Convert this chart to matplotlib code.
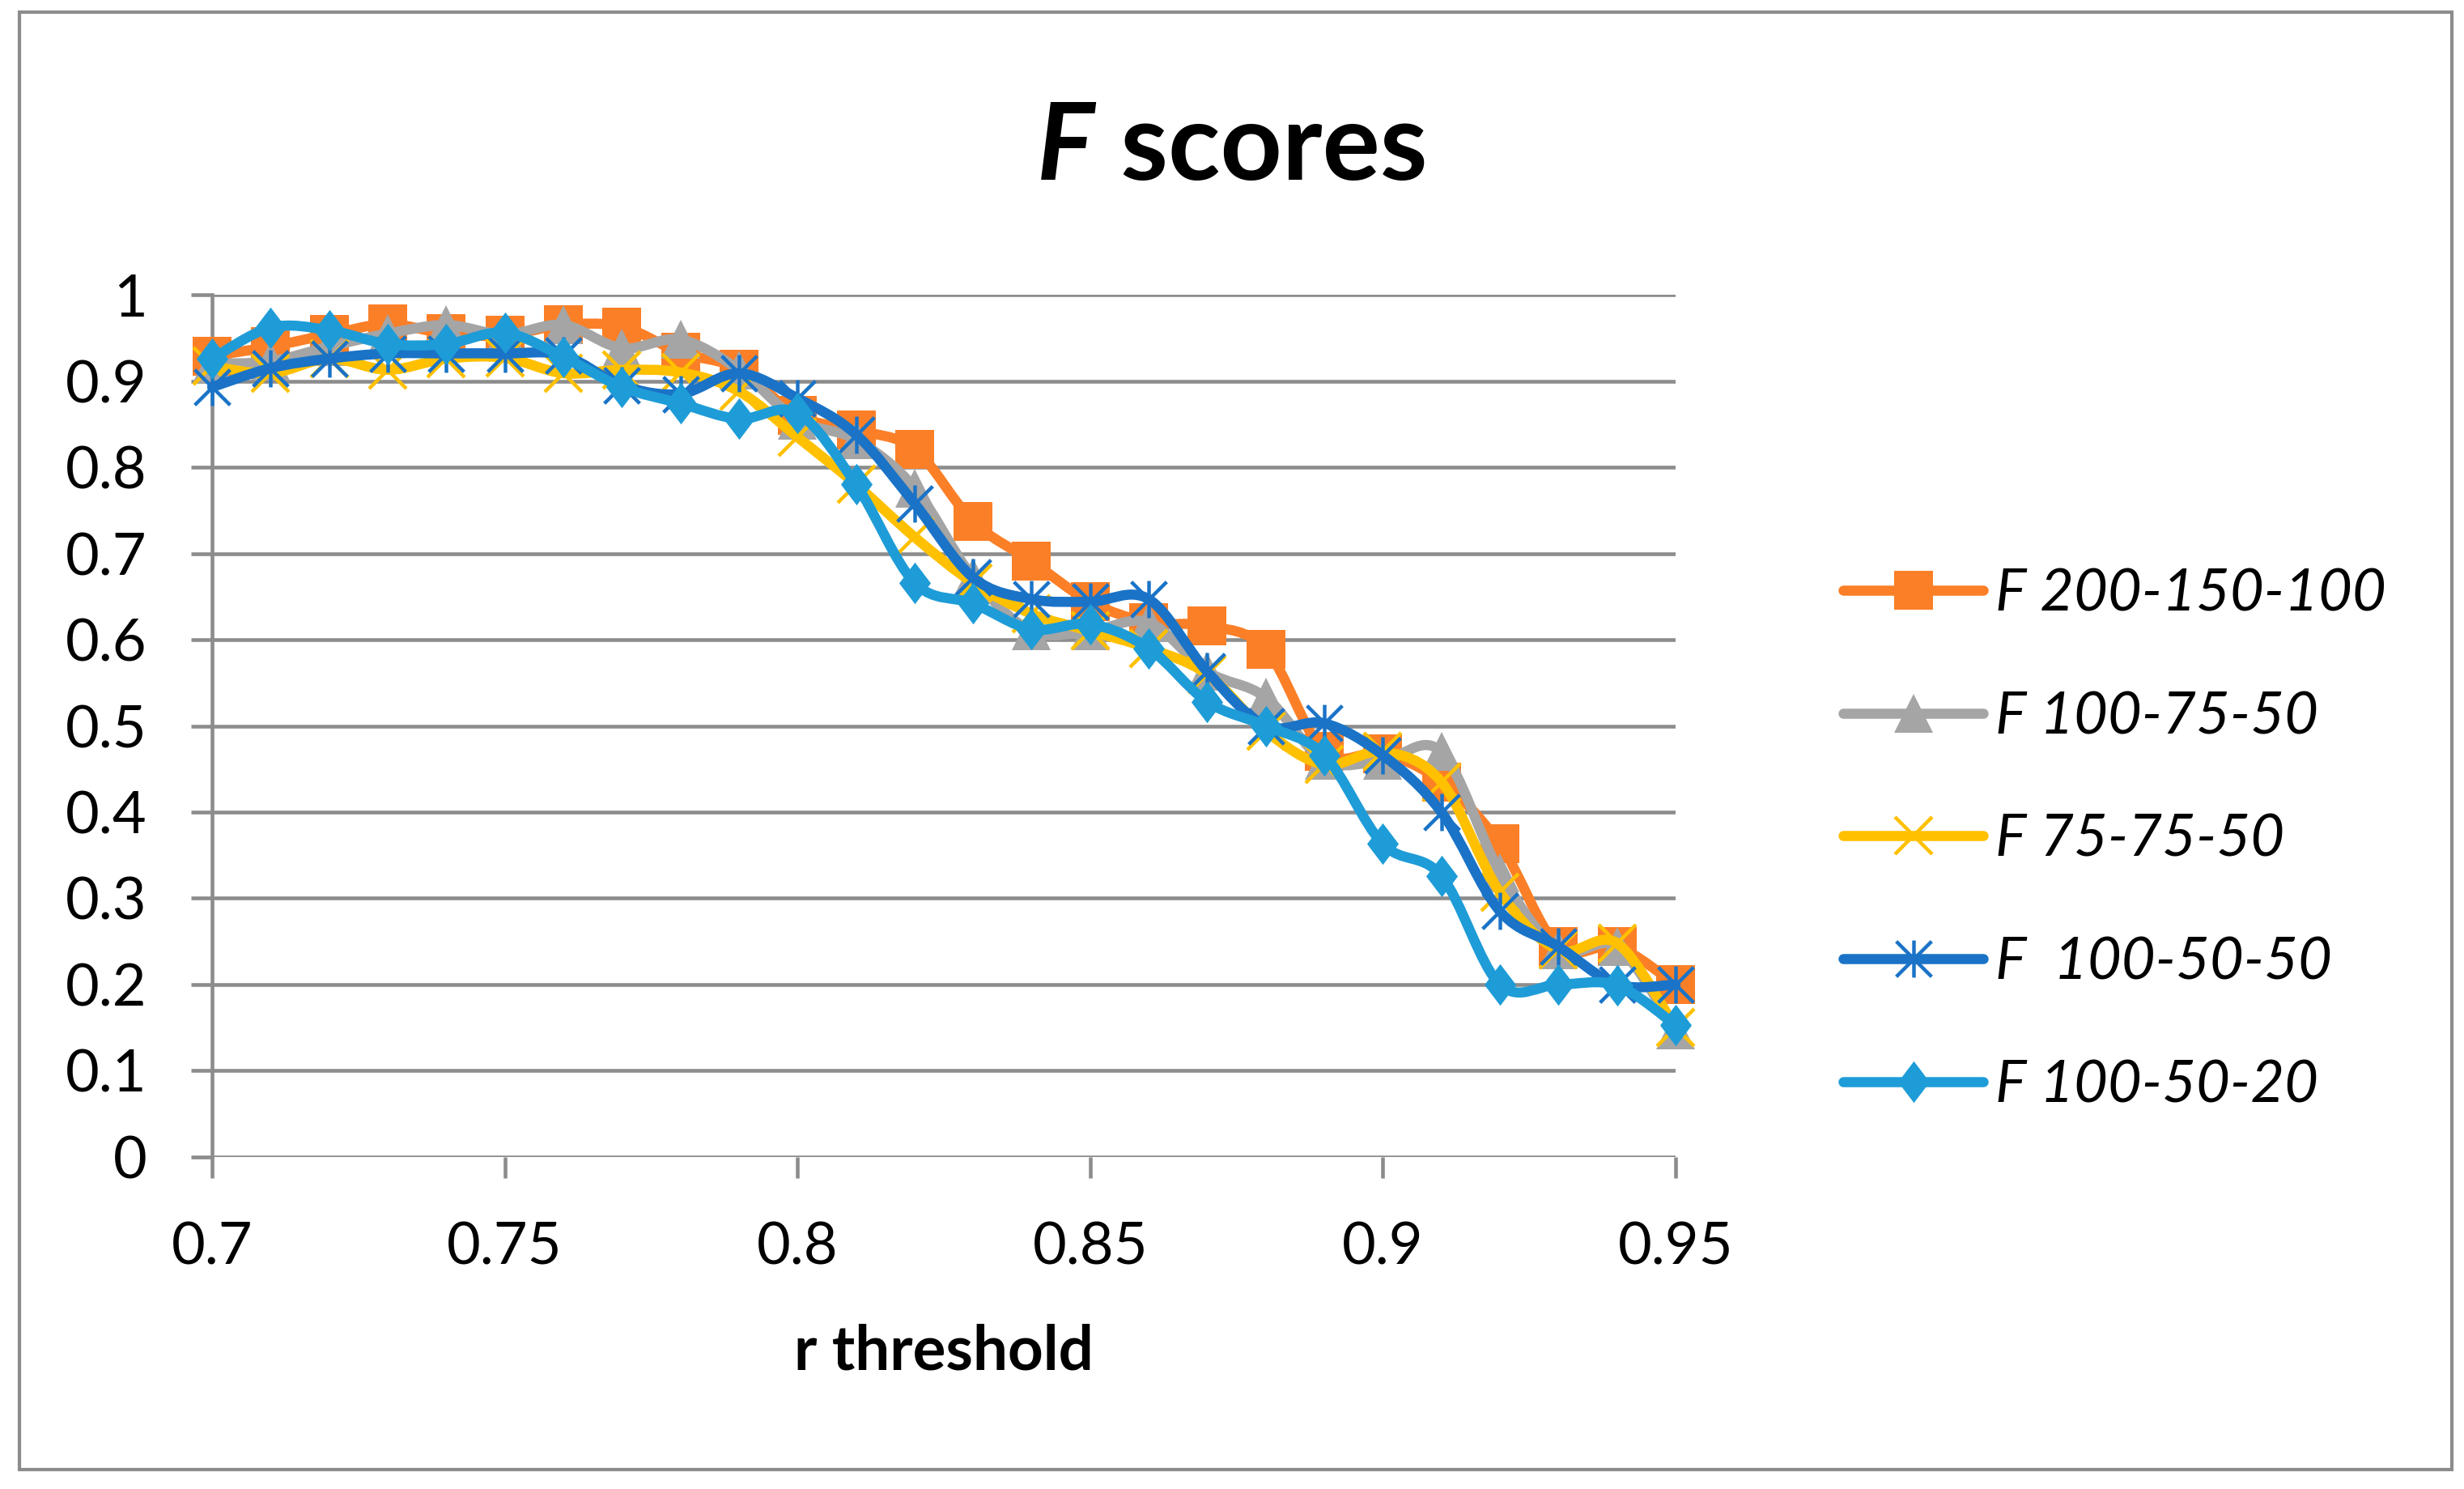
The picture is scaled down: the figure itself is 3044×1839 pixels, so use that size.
import matplotlib
matplotlib.use("Agg")
import matplotlib.pyplot as plt
import numpy as np
from matplotlib.path import Path
from matplotlib.patches import PathPatch, Rectangle
from matplotlib.lines import Line2D
from matplotlib.offsetbox import TextArea, HPacker, AnchoredOffsetbox

plt.rcParams['font.family'] = ['Lato', 'DejaVu Sans']

# --- data ---
r_threshold = [0.70, 0.71, 0.72, 0.73, 0.74, 0.75, 0.76, 0.77, 0.78, 0.79,
               0.80, 0.81, 0.82, 0.83, 0.84, 0.85, 0.86, 0.87, 0.88, 0.89,
               0.90, 0.91, 0.92, 0.93, 0.94, 0.95]

f_200_150_100 = [0.929, 0.940, 0.954, 0.966, 0.955, 0.953, 0.965, 0.963, 0.933, 0.914,
                 0.860, 0.843, 0.821, 0.737, 0.691, 0.644, 0.620, 0.616, 0.589, 0.470,
                 0.468, 0.435, 0.363, 0.244, 0.244, 0.200]
f_100_75_50 = [0.920, 0.923, 0.940, 0.955, 0.965, 0.954, 0.965, 0.938, 0.948, 0.913,
               0.855, 0.832, 0.776, 0.672, 0.610, 0.610, 0.620, 0.563, 0.533, 0.460,
               0.460, 0.470, 0.330, 0.240, 0.244, 0.147]
f_75_75_50 = [0.917, 0.909, 0.926, 0.913, 0.926, 0.927, 0.909, 0.913, 0.910, 0.888,
              0.835, 0.780, 0.719, 0.666, 0.630, 0.610, 0.590, 0.560, 0.494, 0.455,
              0.470, 0.435, 0.307, 0.240, 0.248, 0.150]
f_100_50_50 = [0.893, 0.915, 0.926, 0.932, 0.932, 0.932, 0.930, 0.895, 0.885, 0.909,
               0.880, 0.838, 0.758, 0.672, 0.647, 0.644, 0.647, 0.563, 0.500, 0.503,
               0.466, 0.400, 0.285, 0.244, 0.200, 0.200]
f_100_50_20 = [0.926, 0.962, 0.959, 0.943, 0.943, 0.956, 0.928, 0.893, 0.874, 0.856,
               0.863, 0.780, 0.666, 0.642, 0.612, 0.618, 0.590, 0.528, 0.500, 0.466,
               0.363, 0.326, 0.200, 0.200, 0.199, 0.153]

series_labels = ['F 200-150-100', 'F 100-75-50', 'F 75-75-50', 'F  100-50-50', 'F 100-50-20']
x_ticks = [0.7, 0.75, 0.8, 0.85, 0.9, 0.95]
x_ticklabels = ['0.7', '0.75', '0.8', '0.85', '0.9', '0.95']
y_ticks = [0, 0.1, 0.2, 0.3, 0.4, 0.5, 0.6, 0.7, 0.8, 0.9, 1.0]
y_ticklabels = ['0', '0.1', '0.2', '0.3', '0.4', '0.5', '0.6', '0.7', '0.8', '0.9', '1']

# --- styles ---
colors = ['#FB7F27', '#A5A5A5', '#FFC000', '#1A73C7', '#1E9CD7']
star = Path([(-1, -1), (1, 1), (-1, 1), (1, -1), (0, -1.05), (0, 1.05)],
            [Path.MOVETO, Path.LINETO, Path.MOVETO, Path.LINETO, Path.MOVETO, Path.LINETO])
diamond = Path([(0, 1), (0.76, 0), (0, -1), (-0.76, 0), (0, 1)],
               [Path.MOVETO, Path.LINETO, Path.LINETO, Path.LINETO, Path.CLOSEPOLY])
marker_styles = [
    dict(marker='s', ms=35, mfc=colors[0], mec=colors[0], mew=0),
    dict(marker='^', ms=35, mfc=colors[1], mec=colors[1], mew=0),
    dict(marker='x', ms=33, mfc='none', mec=colors[2], mew=3.2),
    dict(marker=star, ms=33, mfc='none', mec=colors[3], mew=3.2),
    dict(marker=diamond, ms=37, mfc=colors[4], mec=colors[4], mew=0),
]
grid_gray = '#8C8C8C'
lw = 9


def smooth_path(xs, ys):
    # Excel-style smoothed line (Catmull-Rom as cubic Bezier)
    pts = np.column_stack([xs, ys])
    n = len(pts)
    verts = [pts[0]]
    codes = [Path.MOVETO]
    for i in range(n - 1):
        p0 = pts[i - 1] if i > 0 else pts[i]
        p1, p2 = pts[i], pts[i + 1]
        p3 = pts[i + 2] if i + 2 < n else pts[i + 1]
        verts += [p1 + (p2 - p0) / 6, p2 - (p3 - p1) / 6, p2]
        codes += [Path.CURVE4] * 3
    return Path(verts, codes)


fig = plt.figure(figsize=(30.44, 18.39), dpi=100)
ax = fig.add_axes([0.0861, 0.223, 0.680 - 0.0861, 0.802 - 0.223])

all_series = [f_200_150_100, f_100_75_50, f_75_75_50, f_100_50_50, f_100_50_20]
handles = []
for k, (vals, col, mst, lab) in enumerate(zip(all_series, colors, marker_styles, series_labels)):
    z = 3 + 2 * k
    ax.add_patch(PathPatch(smooth_path(r_threshold, vals), fill=False, edgecolor=col,
                           lw=lw, capstyle='round', joinstyle='round', clip_on=False, zorder=z))
    ax.plot(r_threshold, vals, linestyle='none', clip_on=False, zorder=z + 1, **mst)
    handles.append(Line2D([], [], color=col, lw=lw, solid_capstyle='round', label=lab, **mst))

ax.set_xlim(0.7, 0.95)
ax.set_ylim(0, 1)
ax.set_xticks(x_ticks)
ax.set_xticklabels(x_ticklabels)
ax.set_yticks(y_ticks)
ax.set_yticklabels(y_ticklabels)

ax.grid(axis='y', color=grid_gray, lw=3.3, zorder=0)
ax.set_axisbelow(True)
for side in ['top', 'right', 'bottom']:
    ax.spines[side].set_visible(False)
ax.spines['left'].set_color(grid_gray)
ax.spines['left'].set_linewidth(3.3)
ax.tick_params(axis='y', length=19, width=3.3, color=grid_gray, pad=39, labelsize=52)
ax.tick_params(axis='x', length=19, width=3.3, color=grid_gray, pad=38, labelsize=52)

ax.set_xlabel('r threshold', fontsize=55, fontweight='bold', labelpad=44)

# title: italic bold F + bold "scores"
t1 = TextArea('F', textprops=dict(fontsize=96, fontweight='bold', fontstyle='italic'))
t2 = TextArea(' scores', textprops=dict(fontsize=96, fontweight='bold'))
title_box = HPacker(children=[t1, t2], align='baseline', pad=0, sep=0)
fig.add_artist(AnchoredOffsetbox(loc='center', child=title_box, pad=0, borderpad=0,
                                 frameon=False, bbox_to_anchor=(0.5, 0.9),
                                 bbox_transform=fig.transFigure))

leg = fig.legend(handles=handles, loc='center left', bbox_to_anchor=(0.748, 0.436),
                 frameon=False, handlelength=2.4, handletextpad=0.2,
                 labelspacing=1.2, borderpad=0, borderaxespad=0,
                 prop=dict(size=52, style='italic'))

fig.add_artist(Rectangle((0.008, 0.013), 0.987, 0.979, transform=fig.transFigure,
                         fill=False, edgecolor=grid_gray, lw=3))

fig.savefig('out.png', dpi=100, facecolor='white')
